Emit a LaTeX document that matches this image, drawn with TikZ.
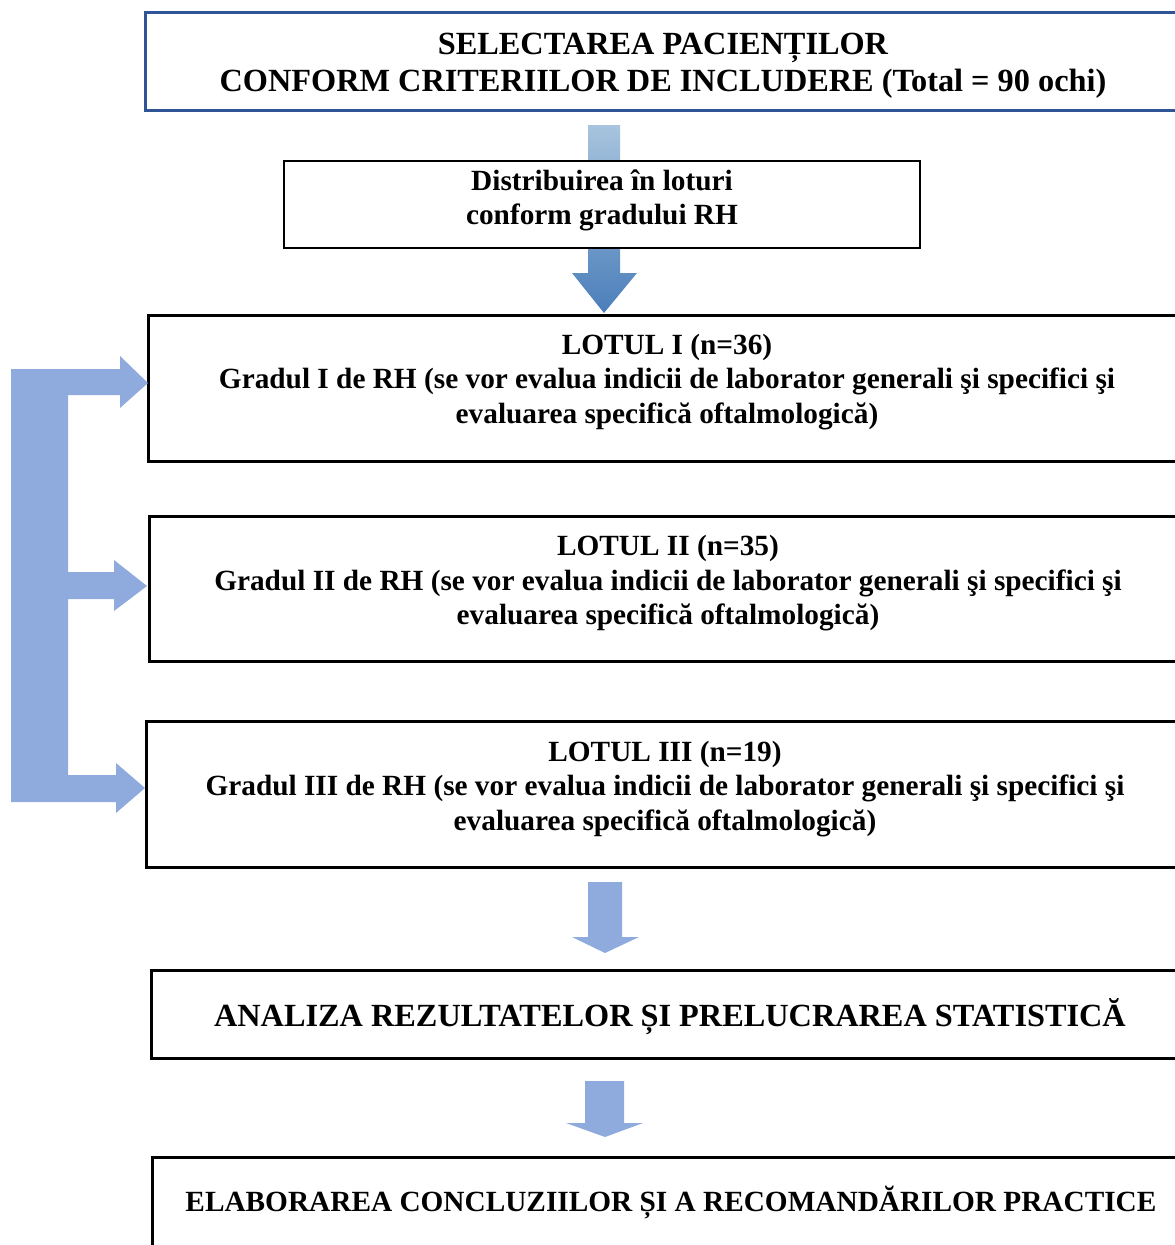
\documentclass[tikz,border=0pt]{standalone}
\usepackage{fontspec}
\setmainfont{Liberation Serif}
\usetikzlibrary{positioning}

\definecolor{arrowblue}{HTML}{8FAADC}
\definecolor{frameblue}{HTML}{2F5597}
\definecolor{shadetop}{HTML}{A8C4DE}
\definecolor{shadebot}{HTML}{4A7EBA}

\begin{document}
\begin{tikzpicture}[x=1pt,y=-1pt,
        stepbox/.style={draw,line width=3pt,fill=white,align=center,inner sep=0pt,
            font=\bfseries\fontsize{29.3}{34.5}\selectfont},
        bigtext/.style={font=\bfseries\fontsize{32.3}{37}\selectfont},
        lotbox/.style={stepbox,minimum width=1038pt,minimum height=146pt,text depth=19pt},
        blockarrow/.style={fill=arrowblue}]
        \useasboundingbox (0,0) rectangle (1175,1245);
        \clip (0,0) rectangle (1175,1245);

        % arrow behind the distribution box
        \shade[top color=shadetop,bottom color=shadebot]
            (588,125) -- (620,125) -- (620,273) -- (637,273) -- (604,313)
            -- (572,273) -- (588,273) -- cycle;

        \node[stepbox,bigtext,draw=frameblue,minimum width=1036pt,minimum height=98pt,text height=68pt] (sel) at (663,61)
            {SELECTAREA PACIENȚILOR\\CONFORM CRITERIILOR DE INCLUDERE (Total = 90 ochi)};
        \node[stepbox,line width=2pt,minimum width=636pt,minimum height=87pt,text depth=15pt] (dist) at (602,204.5)
            {Distribuirea în loturi\\conform gradului RH};

        \node[lotbox] (lot1) at (667,388)
            {LOTUL I (n=36)\\Gradul I de RH (se vor evalua indicii de laborator generali şi specifici şi\\evaluarea specifică oftalmologică)};
        \node[lotbox,minimum height=145pt,text depth=17pt] (lot2) at (668,588.5)
            {LOTUL II (n=35)\\Gradul II de RH (se vor evalua indicii de laborator generali şi specifici şi\\evaluarea specifică oftalmologică)};
        \node[lotbox,text depth=17pt] (lot3) at (665,794)
            {LOTUL III (n=19)\\Gradul III de RH (se vor evalua indicii de laborator generali şi specifici şi\\evaluarea specifică oftalmologică)};

        \node[lotbox,bigtext,minimum height=88pt,text depth=3pt] (anal) at (670,1014)
            {ANALIZA REZULTATELOR ȘI PRELUCRAREA STATISTICĂ};
        \node[lotbox,minimum height=94pt,text depth=10pt] (elab) at (671,1204)
            {ELABORAREA CONCLUZIILOR ȘI A RECOMANDĂRILOR PRACTICE};

        % bracket to the three groups
        \fill[blockarrow] (11,369) -- (120,369) -- (120,356) -- (148,383) -- (120,408)
            -- (120,395) -- (68,395) -- (68,572) -- (114,572) -- (114,560) -- (147,586)
            -- (114,611) -- (114,599) -- (68,599) -- (68,775) -- (116,775) -- (116,763)
            -- (145,788) -- (116,813) -- (116,802) -- (11,802) -- cycle;

        \fill[blockarrow] (588,882) -- (622,882) -- (622,937) -- (639,937) -- (605,953)
            -- (572,937) -- (588,937) -- cycle;
        \fill[blockarrow] (585,1081) -- (624,1081) -- (624,1123) -- (643,1123) -- (605,1137)
            -- (566,1123) -- (585,1123) -- cycle;
\end{tikzpicture}
\end{document}
